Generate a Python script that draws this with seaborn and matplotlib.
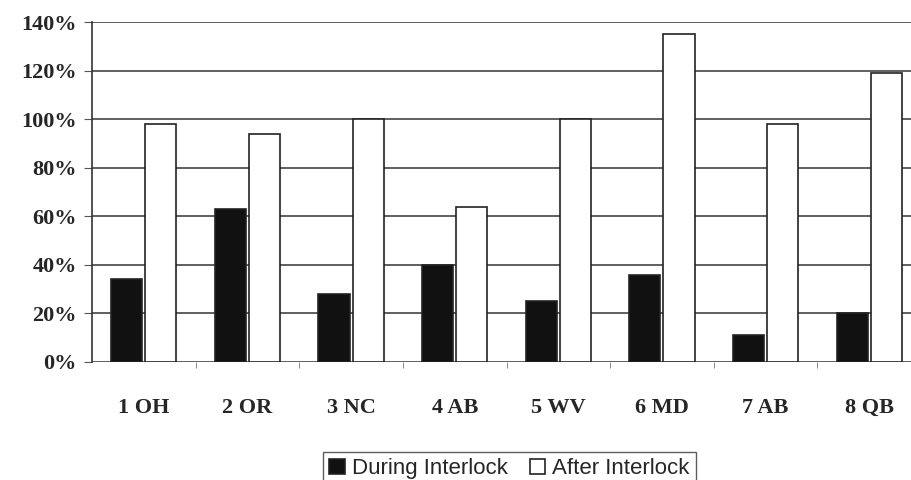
import pandas as pd
import numpy as np
import matplotlib
matplotlib.use('Agg')
import matplotlib.pyplot as plt
import seaborn as sns
from matplotlib.ticker import FixedLocator, PercentFormatter

sites = ['1 OH', '2 OR', '3 NC', '4 AB', '5 WV', '6 MD', '7 AB', '8 QB']
during = [34, 63, 28, 40, 25, 36, 11, 20]
after = [98, 94, 100, 64, 100, 135, 98, 119]
series = ['During Interlock', 'After Interlock']

df = pd.DataFrame({
    'site': sites * 2,
    'value': during + after,
    'phase': [series[0]] * len(sites) + [series[1]] * len(sites),
})

sns.set_style('white')
fig = plt.figure(figsize=(9.11, 4.8), dpi=100)
ax = fig.add_axes([0.101, 0.246, 0.91, 0.708])

sns.barplot(data=df, x='site', y='value', hue='phase', hue_order=series,
            palette={series[0]: '#111111', series[1]: 'white'},
            width=0.66, gap=0.09, edgecolor='#222222', linewidth=1.2,
            ax=ax, legend=True, zorder=3)

ax.set_ylim(0, 140)
ax.set_xlim(-0.5, len(sites) - 0.5)
ax.set_yticks(np.arange(0, 141, 20))
ax.yaxis.set_major_formatter(PercentFormatter(decimals=0))
ax.yaxis.grid(True, color='#444444', linewidth=1.2, zorder=0)
ax.set_axisbelow(True)

for s in ['top', 'right', 'bottom']:
    ax.spines[s].set_visible(False)
ax.spines['left'].set_color('#333333')
ax.spines['left'].set_linewidth(1.2)

ax.set_xlabel('')
ax.set_ylabel('')
ax.xaxis.set_minor_locator(FixedLocator(np.arange(0.5, len(sites) - 0.5, 1)))
ax.tick_params(axis='x', which='major', length=0, pad=26)
ax.tick_params(axis='x', which='minor', length=4, color='#777777', direction='out', bottom=True)
ax.tick_params(axis='y', length=6, color='#555555', pad=5, left=True)

for lab in ax.get_xticklabels() + ax.get_yticklabels():
    lab.set_fontfamily('Liberation Serif')
    lab.set_fontweight('bold')
    lab.set_fontsize(16)

ax.get_legend().remove()
handles, labels = ax.get_legend_handles_labels()
leg = fig.legend(handles[:2], labels[:2], loc='upper center', bbox_to_anchor=(0.559, 0.07 + 0.0125),
                 ncol=2, frameon=True, fancybox=False, edgecolor='#333333',
                 prop={'family': 'Liberation Sans', 'size': 16},
                 handlelength=0.7, handleheight=0.7, handletextpad=0.3,
                 columnspacing=1.0, borderpad=0.3)
leg.get_frame().set_linewidth(1.0)

fig.savefig('out.png', dpi=100)
